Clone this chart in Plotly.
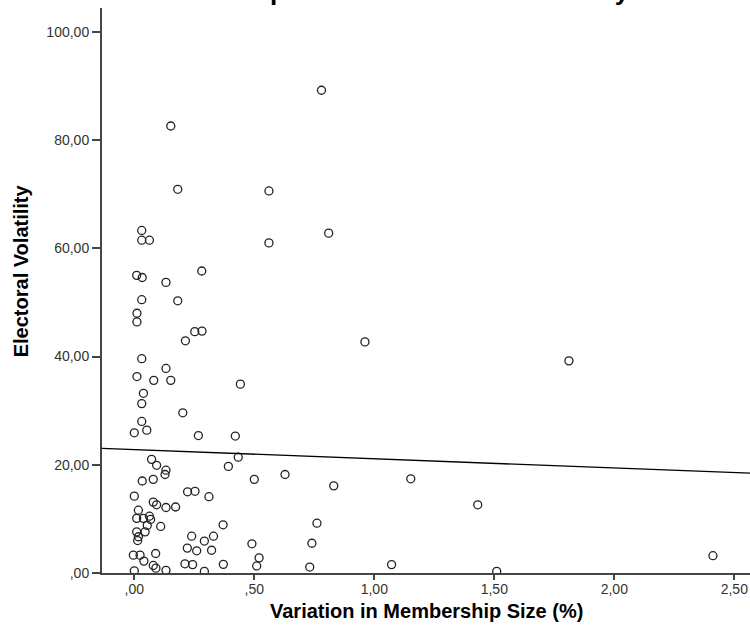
import plotly.graph_objects as go

# ---- data ----
membership_variation = [
    0.78, 0.152, 0.181, 0.561, 0.031, 0.031, 0.063, 0.561, 0.81, 0.010,
    0.033, 0.132, 0.281, 0.031, 0.181, 0.011, 0.011, 0.252, 0.282, 0.213,
    0.961, 1.811, 0.031, 0.132, 0.011, 0.081, 0.152, 0.442, 0.038, 0.031,
    0.202, 0.031, 0.052, 0.000, 0.267, 0.421, 0.433, 0.072, 0.093, 0.392,
    0.132, 0.128, 0.628, 0.033, 0.079, 0.500, 0.831, 1.152, 0.222, 0.253,
    0.311, 0.000, 0.079, 0.093, 0.132, 0.172, 1.431, 0.017, 0.010, 0.038,
    0.063, 0.068, 0.761, 0.054, 0.110, 0.370, 0.010, 0.045, 0.017, 0.014,
    0.239, 0.330, 0.292, 0.490, 0.740, 0.221, 0.260, 0.322, -0.004, 0.024,
    0.089, 0.040, 0.520, 2.411, 0.079, 0.090, 0.211, 0.243, 0.371, 0.510,
    0.731, 1.072, 0.000, 0.132, 0.292, 1.510,
]
electoral_volatility = [
    89.2, 82.6, 70.9, 70.6, 63.3, 61.5, 61.5, 61.0, 62.8, 55.0,
    54.6, 53.7, 55.8, 50.5, 50.3, 48.0, 46.4, 44.6, 44.7, 42.9,
    42.7, 39.2, 39.6, 37.8, 36.3, 35.6, 35.6, 34.9, 33.2, 31.3,
    29.6, 28.0, 26.4, 25.9, 25.4, 25.3, 21.4, 21.0, 19.9, 19.7,
    19.0, 18.2, 18.2, 17.0, 17.3, 17.3, 16.1, 17.4, 15.0, 15.1,
    14.1, 14.2, 13.1, 12.6, 12.1, 12.2, 12.6, 11.6, 10.1, 10.1,
    10.5, 9.9, 9.2, 8.8, 8.6, 8.9, 7.6, 7.6, 6.7, 6.0,
    6.8, 6.8, 5.9, 5.4, 5.5, 4.6, 4.1, 4.2, 3.3, 3.3,
    3.6, 2.2, 2.8, 3.2, 1.4, 0.9, 1.7, 1.55, 1.6, 1.3,
    1.1, 1.55, 0.4, 0.5, 0.3, 0.3,
]

# linear fit line
fit_intercept = 22.8
fit_slope = -1.7

x_tick_values = [0.0, 0.5, 1.0, 1.5, 2.0, 2.5]
x_tick_labels = [",00", ",50", "1,00", "1,50", "2,00", "2,50"]
y_tick_values = [0, 20, 40, 60, 80, 100]
y_tick_labels = [",00", "20,00", "40,00", "60,00", "80,00", "100,00"]

x_range = [-0.1346, 2.5654]
y_range = [0, 104.4]

title_text = "Membership Size and Electoral Volatility"
x_title = "Variation in Membership Size (%)"
y_title = "Electoral Volatility"

FONT = "Arial, 'Liberation Sans', sans-serif"

fig = go.Figure()

fig.add_trace(go.Scatter(
    x=membership_variation,
    y=electoral_volatility,
    mode="markers",
    marker=dict(symbol="circle-open", size=8, color="#222222",
                line=dict(width=1.3, color="#222222")),
    hoverinfo="skip",
    showlegend=False,
))

fit_x = list(x_range)
fit_y = [fit_intercept + fit_slope * v for v in fit_x]
fig.add_trace(go.Scatter(
    x=fit_x, y=fit_y, mode="lines",
    line=dict(color="#000000", width=1.3),
    hoverinfo="skip", showlegend=False,
))

axis_common = dict(
    showgrid=False, zeroline=False, showline=True,
    linecolor="#444444", linewidth=2,
    ticks="outside", tickcolor="#444444", tickwidth=1.5,
    tickfont=dict(family=FONT, size=14, color="#333333"),
)

fig.update_xaxes(range=x_range, tickvals=x_tick_values, ticktext=x_tick_labels,
                 ticklen=5, ticklabelstandoff=-3, automargin=False, **axis_common)
fig.update_yaxes(range=y_range, tickvals=y_tick_values, ticktext=y_tick_labels,
                 ticklen=8, automargin=False, **axis_common)

fig.update_layout(
    width=750, height=636,
    margin=dict(l=102, r=0, t=8, b=63),
    plot_bgcolor="white", paper_bgcolor="white",
    title=dict(text="<b>" + title_text + "</b>", x=0.508, xanchor="center",
               xref="container", y=1.0, yref="container", yanchor="bottom",
               pad=dict(t=0, b=0, l=0, r=0),
               font=dict(family=FONT, size=26, color="#000000")),
    annotations=[
        dict(text="<b>" + x_title + "</b>", xref="paper", yref="paper",
             x=0.5, y=-0.068, xanchor="center", yanchor="middle",
             showarrow=False, font=dict(family=FONT, size=20, color="#000000")),
        dict(text="<b>" + y_title + "</b>", xref="paper", yref="paper",
             x=-0.125, y=0.534, xanchor="center", yanchor="middle",
             textangle=-90, showarrow=False,
             font=dict(family=FONT, size=20, color="#000000")),
    ],
)

fig.write_html(
    "out.html",
    config={"displayModeBar": False},
    post_script="document.body.style.margin='0px';document.body.style.overflow='hidden';",
)
